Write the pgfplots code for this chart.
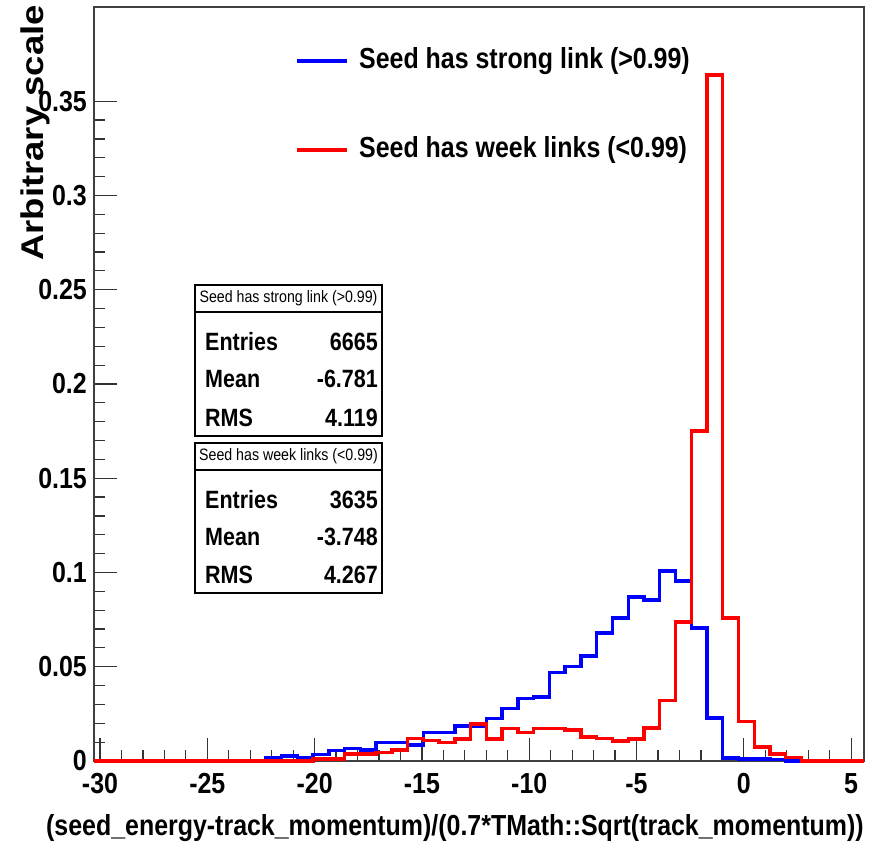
\documentclass[border=0pt]{standalone}
\usepackage{pgfplots}
\usepackage{pgfplotstable}
\pgfplotsset{compat=1.18}
\usepackage{fontspec}
\setmainfont{Liberation Sans}[FakeStretch=0.86]
\newfontfamily\plainfont{Liberation Sans}

\pgfplotstableread{
x y
-30.28 0
-22.270 0.0017
-21.536 0.0027
-20.802 0.0017
-20.068 0.0035
-19.334 0.0055
-18.600 0.0067
-17.866 0.0058
-17.132 0.0099
-16.398 0.0099
-15.664 0.0085
-14.930 0.0150
-14.196 0.0150
-13.462 0.0186
-12.728 0.0186
-11.994 0.0226
-11.260 0.0280
-10.526 0.0332
-9.792 0.0340
-9.058 0.0470
-8.324 0.0500
-7.590 0.0557
-6.856 0.0680
-6.122 0.0758
-5.388 0.0870
-4.654 0.0854
-3.920 0.1007
-3.186 0.0954
-2.452 0.0705
-1.718 0.0228
-0.984 0.0016
-0.250 0.0010
0.484 0.0010
1.218 0.0008
1.952 0
5.60 0
}\strongtab

\pgfplotstableread{
x y
-30.28 0
-20.068 0.0010
-19.334 0.0010
-18.600 0.0037
-17.866 0.0037
-17.132 0.0046
-16.398 0.0058
-15.664 0.0120
-14.930 0.0110
-14.196 0.0097
-13.462 0.0117
-12.728 0.0196
-11.994 0.0117
-11.260 0.0173
-10.526 0.0150
-9.792 0.0173
-9.058 0.0173
-8.324 0.0164
-7.590 0.0127
-6.856 0.0120
-6.122 0.0106
-5.388 0.0116
-4.654 0.0175
-3.920 0.0320
-3.186 0.0737
-2.452 0.1750
-1.718 0.3640
-0.984 0.0758
-0.250 0.0210
0.484 0.0074
1.218 0.0037
1.952 0.0018
2.686 0
5.60 0
}\weektab

\begin{document}
\begin{tikzpicture}[x=1pt,y=1pt]
\useasboundingbox (0,0) rectangle (874,842);
\begin{axis}[
  at={(94pt,81pt)}, anchor=south west,
  width=770pt, height=754pt, scale only axis,
  xmin=-30.28, xmax=5.6, ymin=0, ymax=0.4,
  clip=false,
  axis line style={line width=1.6pt, draw=black!75},
  tick align=inside, xtick pos=bottom, ytick pos=left,
  major tick length=23pt, minor tick length=11pt,
  tick style={line width=1.2pt, draw=black!80},
  xtick={-30,-25,-20,-15,-10,-5,0,5},
  xticklabels={-30,-25,-20,-15,-10,-5,0,5},
  ytick={0,0.05,0.1,0.15,0.2,0.25,0.3,0.35},
  yticklabels={0,0.05,0.1,0.15,0.2,0.25,0.3,0.35},
  minor x tick num=4, minor y tick num=4,
  ticklabel style={font=\fontsize{29}{32}\selectfont\bfseries, inner sep=0pt},
  xticklabel style={anchor=north, yshift=-12pt},
  yticklabel style={anchor=east, xshift=-7pt},
]
\addplot[const plot mark left, draw=blue, line width=3.4pt, line join=miter] table[x=x,y=y] {\strongtab};
\addplot[const plot mark left, draw=red, line width=3.4pt, line join=miter] table[x=x,y=y] {\weektab};
\end{axis}

% axis titles
\node[anchor=base east, inner sep=0pt, font=\fontsize{29}{32}\selectfont\bfseries] at (864,7) {(seed\_energy-track\_momentum)/(0.7*TMath::Sqrt(track\_momentum))};
\node[anchor=base east, rotate=90, inner sep=0pt] at (43,837) {\scalebox{1}[0.86]{\plainfont\bfseries\fontsize{36.5}{40}\selectfont Arbitrary scale}};

% legend
\draw[blue, line width=3.4pt] (297,781) -- (347,781);
\node[anchor=west, inner sep=0pt, font=\fontsize{29}{32}\selectfont\bfseries] at (359,781) {Seed has strong link (>0.99)};
\draw[red, line width=3.4pt] (297,692) -- (347,692);
\node[anchor=west, inner sep=0pt, font=\fontsize{29}{32}\selectfont\bfseries] at (359,692) {Seed has week links (<0.99)};

% stats boxes
\draw[line width=1.5pt, fill=white] (195,406) rectangle (382,557);
\draw[line width=1.5pt] (195,530) -- (382,530);
\node[inner sep=0pt, font=\fontsize{16.5}{18}\selectfont] at (288.5,543.5) {Seed has strong link (>0.99)};
\begin{scope}[every node/.style={inner sep=0pt, font=\fontsize{25}{28}\selectfont\bfseries}]
\node[anchor=west] at (205,500) {Entries};
\node[anchor=east] at (378,500) {6665};
\node[anchor=west] at (205,463) {Mean};
\node[anchor=east] at (378,463) {-6.781};
\node[anchor=west] at (205,424) {RMS};
\node[anchor=east] at (378,424) {4.119};
\end{scope}

\draw[line width=1.5pt, fill=white] (195,249) rectangle (382,399);
\draw[line width=1.5pt] (195,372) -- (382,372);
\node[inner sep=0pt, font=\fontsize{16.5}{18}\selectfont] at (288.5,385.5) {Seed has week links (<0.99)};
\begin{scope}[every node/.style={inner sep=0pt, font=\fontsize{25}{28}\selectfont\bfseries}]
\node[anchor=west] at (205,342) {Entries};
\node[anchor=east] at (378,342) {3635};
\node[anchor=west] at (205,305) {Mean};
\node[anchor=east] at (378,305) {-3.748};
\node[anchor=west] at (205,267) {RMS};
\node[anchor=east] at (378,267) {4.267};
\end{scope}
\end{tikzpicture}
\end{document}
